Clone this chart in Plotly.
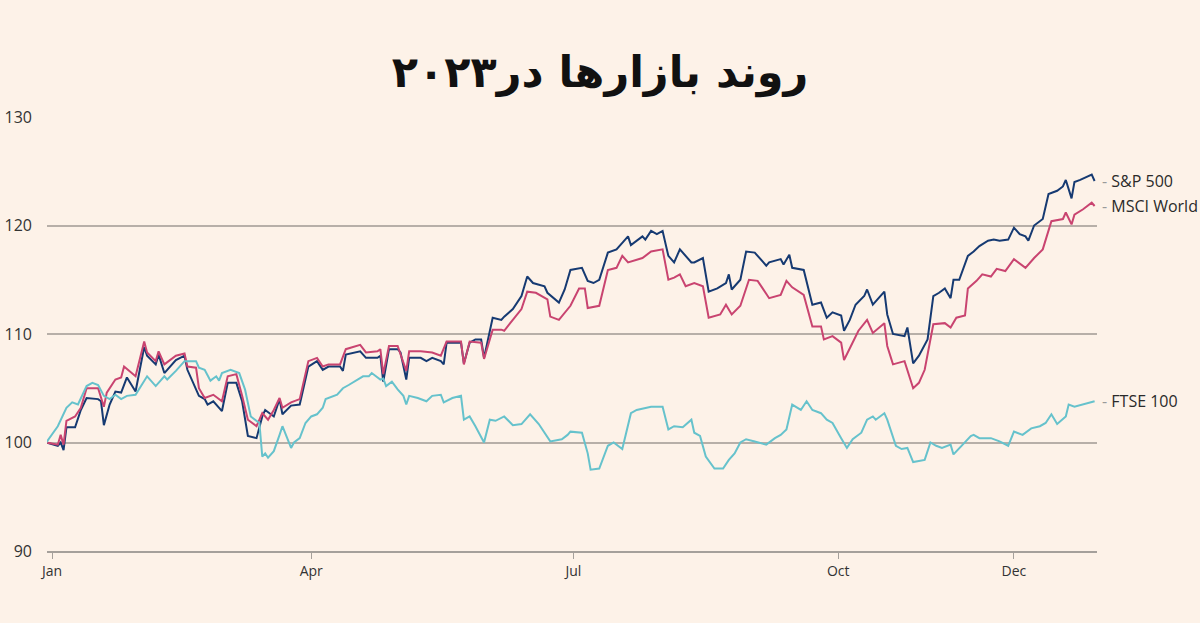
import pandas as pd
import plotly.graph_objects as go

# ---- data (day offsets from 2023-01-01, index values rebased to 100) ----
sp_days = [-2, 2, 3, 4, 5, 8, 10, 12, 16, 17, 18, 20, 22, 24, 26, 29, 32, 33, 36, 37, 39, 43, 46, 47,
           51, 53, 54, 56, 59, 61, 64, 66, 68, 71, 73, 74, 77, 79, 80, 83, 86, 89, 92, 94, 96, 100, 101,
           102, 107, 109, 113, 114, 115, 117, 120, 121, 123, 124, 128, 130, 132, 135, 136, 137, 142, 143,
           145, 147, 149, 150, 153, 156, 157, 160, 163, 165, 167, 171, 172, 176, 178, 180, 184, 186, 188,
           190, 193, 196, 197, 200, 201, 205, 206, 208, 210, 212, 214, 216, 218, 222, 223, 226, 228, 231,
           234, 235, 236, 239, 241, 244, 248, 249, 253, 254, 256, 257, 261, 264, 267, 269, 271, 274, 275,
           277, 279, 282, 283, 285, 289, 290, 292, 296, 297, 299, 301, 304, 306, 308, 310, 312, 313, 315,
           318, 320, 322, 325, 327, 329, 332, 334, 336, 338, 339, 341, 344, 346, 349, 351, 352, 354, 355,
           357, 361, 362]
sp_vals = [100.0, 99.7, 100.0, 99.3, 101.4, 101.4, 103.0, 104.1, 104.0, 103.8, 101.6, 103.5, 104.7, 104.6,
           106.0, 104.7, 108.8, 108.0, 107.2, 108.1, 106.4, 107.6, 108.0, 106.7, 104.3, 104.0, 103.5, 103.8,
           102.9, 105.5, 105.5, 103.8, 100.6, 100.4, 102.4, 103.0, 102.4, 104.0, 102.6, 103.4, 103.5, 107.0,
           107.5, 106.7, 107.0, 107.0, 106.6, 108.1, 108.4, 107.8, 107.8, 108.0, 105.6, 108.6, 108.6, 108.3,
           105.8, 107.8, 107.8, 107.5, 107.8, 107.5, 107.2, 109.2, 109.2, 107.3, 109.2, 109.5, 109.5, 107.8,
           111.5, 111.3, 111.6, 112.3, 113.5, 115.3, 114.7, 114.4, 113.8, 112.9, 114.1, 115.9, 116.1, 114.9,
           114.7, 115.0, 117.5, 117.8, 118.1, 119.0, 118.2, 119.0, 118.7, 119.5, 119.2, 119.5, 117.2, 116.6,
           117.8, 116.6, 116.6, 117.0, 113.9, 114.2, 114.7, 115.5, 114.1, 115.0, 117.6, 117.5, 116.3, 116.6,
           116.9, 116.4, 117.3, 116.1, 115.9, 112.7, 112.9, 111.5, 112.0, 111.7, 110.3, 111.3, 112.7, 113.5,
           114.1, 112.7, 113.9, 111.8, 110.0, 109.8, 110.6, 107.3, 108.0, 109.5, 113.5, 113.8, 114.2, 113.3,
           115.0, 115.0, 117.2, 117.6, 118.1, 118.6, 118.7, 118.6, 118.7, 119.8, 119.2, 119.0, 118.6, 120.0,
           120.6, 122.9, 123.2, 123.6, 124.2, 122.5, 124.0, 124.2, 124.7, 124.1]

msci_days = [-2, 2, 3, 4, 5, 8, 10, 12, 16, 18, 19, 22, 24, 25, 29, 32, 33, 36, 37, 39, 43, 46, 47, 50,
             51, 53, 56, 59, 61, 64, 66, 68, 71, 73, 75, 77, 79, 80, 83, 86, 89, 92, 94, 96, 100, 102, 107,
             109, 113, 114, 115, 117, 120, 123, 124, 128, 132, 135, 137, 142, 143, 145, 149, 150, 153, 156,
             157, 160, 163, 165, 168, 172, 173, 176, 180, 183, 185, 186, 190, 193, 196, 198, 200, 205, 206,
             208, 212, 214, 216, 218, 220, 223, 226, 228, 232, 234, 236, 239, 242, 245, 249, 253, 255, 257,
             261, 264, 267, 268, 271, 274, 275, 278, 280, 283, 285, 289, 290, 292, 296, 299, 301, 303, 306,
             310, 312, 314, 317, 318, 321, 323, 326, 328, 331, 334, 338, 341, 344, 347, 351, 352, 354, 355,
             358, 361, 362]
msci_vals = [100.0, 99.8, 100.7, 99.8, 102.0, 102.4, 103.2, 105.0, 105.0, 103.3, 104.6, 105.8, 106.0,
             107.0, 106.1, 109.3, 108.3, 107.5, 108.4, 107.2, 108.0, 108.2, 107.0, 106.9, 105.0, 104.1,
             104.4, 103.8, 106.1, 106.3, 104.3, 102.1, 101.5, 102.7, 102.1, 103.0, 104.1, 103.2, 103.7,
             104.0, 107.5, 107.8, 107.0, 107.2, 107.2, 108.6, 109.0, 108.3, 108.4, 108.6, 106.3, 108.9,
             108.9, 106.6, 108.4, 108.4, 108.3, 108.0, 109.3, 109.3, 107.2, 109.3, 109.2, 107.7, 110.4,
             110.4, 110.3, 111.3, 112.3, 113.9, 113.8, 113.2, 111.6, 111.3, 112.6, 114.2, 114.2, 112.4,
             112.6, 115.9, 116.1, 117.2, 116.6, 117.0, 117.2, 117.6, 117.8, 115.0, 115.2, 115.5, 114.4,
             114.7, 114.4, 111.5, 111.8, 112.7, 111.8, 112.6, 115.0, 114.9, 113.3, 113.6, 114.9, 114.3,
             113.6, 110.7, 110.7, 109.5, 109.8, 109.2, 107.6, 109.3, 110.3, 111.3, 110.1, 111.0, 108.9,
             107.2, 107.5, 105.0, 105.5, 106.7, 110.9, 111.0, 110.6, 111.5, 111.7, 114.2, 114.9, 115.5,
             115.3, 116.0, 115.8, 116.9, 116.1, 117.0, 117.8, 120.4, 120.6, 121.2, 120.1, 121.0, 121.5,
             122.1, 121.8]

ftse_days = [-2, 2, 5, 7, 9, 12, 14, 16, 18, 20, 22, 24, 26, 29, 33, 36, 39, 40, 43, 46, 50, 51, 53, 55,
             57, 58, 59, 62, 65, 67, 69, 72, 73, 74, 75, 77, 79, 80, 83, 84, 86, 88, 90, 92, 94, 95, 99,
             101, 103, 106, 108, 110, 111, 114, 115, 116, 118, 120, 122, 123, 124, 127, 130, 132, 135, 136,
             139, 142, 143, 145, 147, 150, 152, 154, 157, 160, 163, 166, 169, 173, 177, 179, 180, 184, 186,
             187, 190, 193, 195, 198, 201, 203, 206, 208, 212, 214, 216, 219, 222, 223, 225, 227, 230, 233,
             235, 237, 239, 241, 244, 248, 251, 253, 255, 257, 260, 262, 264, 267, 269, 271, 274, 276, 278,
             281, 283, 285, 286, 289, 290, 293, 295, 297, 299, 301, 303, 305, 307, 309, 312, 313, 315, 317,
             319, 320, 322, 326, 329, 332, 334, 337, 340, 343, 345, 347, 349, 352, 353, 355, 358, 362]
ftse_vals = [100.0, 101.5, 103.2, 103.7, 103.5, 105.2, 105.5, 105.3, 104.3, 104.0, 104.4, 104.0, 104.3,
             104.4, 106.1, 105.2, 106.1, 105.8, 106.6, 107.5, 107.5, 106.9, 106.7, 105.7, 106.1, 105.7,
             106.4, 106.7, 106.4, 104.9, 102.4, 101.8, 98.7, 99.0, 98.6, 99.2, 100.7, 101.5, 99.5, 100.0,
             100.4, 101.8, 102.4, 102.6, 103.2, 104.0, 104.4, 105.0, 105.3, 105.8, 106.1, 106.1, 106.4,
             105.8, 105.9, 105.2, 105.6, 104.9, 104.3, 103.5, 104.3, 104.1, 103.8, 104.3, 104.4, 103.7,
             104.1, 104.3, 102.1, 102.4, 101.5, 100.0, 102.1, 102.0, 102.4, 101.6, 101.7, 102.6, 101.7,
             100.1, 100.3, 100.7, 101.0, 100.9, 99.0, 97.5, 97.6, 99.7, 100.0, 99.4, 102.7, 103.0, 103.2,
             103.3, 103.3, 101.2, 101.5, 101.4, 102.1, 100.9, 100.6, 98.7, 97.6, 97.6, 98.4, 99.0, 100.0,
             100.3, 100.1, 99.8, 100.4, 100.7, 101.2, 103.5, 103.0, 103.8, 103.0, 102.7, 102.1, 101.8,
             100.4, 99.5, 100.3, 100.9, 102.1, 102.4, 102.1, 102.7, 102.1, 99.7, 99.4, 99.5, 98.2, 98.3,
             98.4, 100.0, 99.7, 99.5, 99.8, 98.9, 99.5, 100.0, 100.6, 100.7, 100.4, 100.4, 100.1, 99.7,
             101.0, 100.7, 101.3, 101.5, 101.8, 102.6, 101.7, 102.4, 103.5, 103.3, 103.5, 103.8]

series_names = ["S&P 500", "MSCI World", "FTSE 100"]
series_colors = ["#163a72", "#c94470", "#66c2cc"]

tick_dates = ["2023-01-01", "2023-04-01", "2023-07-01", "2023-10-01", "2023-12-01"]
tick_labels = ["Jan", "Apr", "Jul", "Oct", "Dec"]
y_ticks = [90, 100, 110, 120, 130]

title_text = "روند بازارها در۲۰۲۳"

base = pd.Timestamp("2023-01-01")


def to_dates(days):
    return base + pd.to_timedelta(days, unit="D")


all_days = [sp_days, msci_days, ftse_days]
all_vals = [sp_vals, msci_vals, ftse_vals]

BG = "#fdf2e8"
fig = go.Figure()

for name, color, d, v in zip(series_names, series_colors, all_days, all_vals):
    fig.add_trace(go.Scatter(
        x=to_dates(d), y=v, mode="lines", name=name,
        line=dict(color=color, width=2), showlegend=False,
    ))

annotations = []
for name, d, v in zip(series_names, all_days, all_vals):
    annotations.append(dict(
        x=to_dates([d[-1]])[0], y=v[-1], xref="x", yref="y",
        text="<span style='color:#9a9a9a'>-</span> " + name,
        showarrow=False, xanchor="left", yanchor="middle", xshift=5,
        font=dict(family="Open Sans, Lato, sans-serif", size=16, color="#2a2a2a"),
    ))

fig.update_layout(
    width=1200, height=623,
    paper_bgcolor=BG, plot_bgcolor=BG,
    margin=dict(l=47, r=103, t=117, b=72, autoexpand=False),
    title=dict(
        text="<b>" + title_text + "</b>", x=0.5, xanchor="center",
        y=1 - 72 / 623, yref="container", yanchor="middle",
        font=dict(family="DejaVu Sans, Noto Sans, sans-serif", size=43, color="#111111"),
    ),
    annotations=annotations,
    xaxis=dict(
        type="date", automargin=False,
        range=["2022-12-30 06:00", "2023-12-29 20:00"],
        tickvals=tick_dates, ticktext=tick_labels,
        showgrid=False, zeroline=False,
        showline=True, linecolor="#a5a09b", linewidth=2,
        ticks="outside", ticklen=6, tickcolor="#a5a09b", tickwidth=1,
        tickfont=dict(family="Open Sans, Lato, sans-serif", size=14, color="#333333"),
    ),
    yaxis=dict(
        range=[90, 130], tickvals=y_ticks, automargin=False,
        showgrid=True, gridcolor="#b7afa8", gridwidth=1.5,
        zeroline=False, showline=False, ticks="",
        ticklabelstandoff=14,
        tickfont=dict(family="Open Sans, Lato, sans-serif", size=16, color="#333333"),
    ),
)

fig.write_html(
    "out.html",
    config={"displayModeBar": False},
    post_script="document.body.style.margin='0';document.body.style.background='" + BG + "';",
)
